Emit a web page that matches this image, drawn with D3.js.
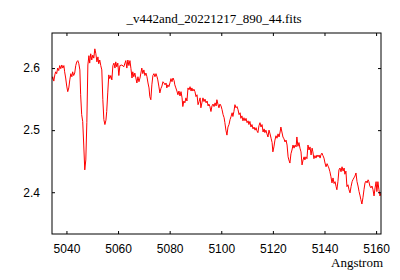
<!DOCTYPE html>
<html lang="en">
<head>
<meta charset="utf-8">
<title>_v442and_20221217_890_44.fits</title>
<script src="https://cdn.jsdelivr.net/npm/d3@7"></script>
<style>
 body { margin: 0; background: #fff; }
</style>
</head>
<body>
<script type="text/javascript">

 // spectrum values
 var title = "_v442and_20221217_890_44.fits";
 var xLabel = "Angstrom";
 var xTicks = [5040, 5060, 5080, 5100, 5120, 5140, 5160];
 var yTicks = [2.4, 2.5, 2.6];
 var xDomain = [5034.4, 5161.9];
 var yDomain = [2.3327, 2.6565];

 var wavelength = [
  5034.3,5034.7,5035.1,5035.5,5035.8,5036.2,5036.6,5037.0,5037.4,5037.8,5038.2,5038.6,5039.0,5039.3,5039.7,
  5040.1,5040.5,5040.9,5041.3,5041.7,5042.1,5042.4,5042.8,5043.2,5043.6,5044.0,5044.4,5044.8,5045.2,5045.5,
  5045.9,5046.3,5046.7,5047.1,5047.5,5047.9,5048.3,5048.7,5049.0,5049.4,5049.8,5050.2,5050.6,5051.0,5051.4,
  5051.8,5052.2,5052.5,5052.9,5053.3,5053.7,5054.1,5054.5,5054.9,5055.3,5055.6,5056.0,5056.4,5056.8,5057.2,
  5057.6,5058.0,5058.4,5058.8,5059.1,5059.5,5059.9,5060.3,5060.7,5061.5,5062.2,5063.0,5063.4,5063.8,5064.2,
  5064.6,5065.0,5065.4,5065.7,5066.1,5066.5,5066.9,5067.3,5067.7,5068.1,5068.5,5069.2,5069.6,5070.0,5070.4,
  5070.8,5071.2,5071.6,5072.0,5072.3,5072.7,5073.1,5073.5,5073.9,5074.3,5074.7,5075.1,5075.4,5075.8,5076.2,
  5076.6,5077.0,5077.4,5077.8,5078.2,5078.6,5078.9,5079.3,5079.7,5080.1,5080.5,5080.9,5081.3,5081.7,5082.0,
  5082.4,5082.8,5083.2,5083.6,5084.0,5084.4,5084.8,5085.1,5085.5,5085.9,5086.3,5086.7,5087.1,5087.5,5087.9,
  5088.3,5088.6,5089.0,5089.4,5089.8,5090.2,5090.6,5091.0,5091.4,5091.8,5092.1,5092.5,5092.9,5093.3,5093.7,
  5094.1,5094.5,5094.9,5095.2,5095.6,5096.0,5096.4,5096.8,5097.2,5097.6,5098.0,5098.3,5098.7,5099.1,5099.5,
  5099.9,5100.3,5100.7,5101.1,5101.4,5101.8,5102.2,5102.6,5103.0,5103.4,5103.8,5104.2,5104.5,5104.9,5105.3,
  5105.7,5106.1,5106.5,5106.9,5107.3,5107.6,5108.0,5108.4,5108.8,5109.2,5109.6,5110.0,5110.4,5110.7,5111.1,
  5111.5,5111.9,5112.3,5112.7,5113.1,5113.5,5113.8,5114.2,5114.6,5115.0,5115.4,5115.8,5116.2,5116.6,5116.9,
  5117.3,5117.7,5118.1,5118.5,5118.9,5119.3,5119.7,5120.0,5120.4,5120.8,5121.2,5121.6,5122.0,5122.4,5122.8,
  5123.1,5123.5,5123.9,5124.3,5124.7,5125.1,5125.5,5125.9,5126.2,5126.6,5127.0,5127.4,5127.8,5128.2,5128.6,
  5129.0,5129.3,5129.7,5130.1,5130.5,5130.9,5131.3,5131.7,5132.1,5132.4,5132.8,5133.2,5133.6,5134.0,5134.4,
  5134.8,5135.2,5135.5,5135.9,5136.3,5136.7,5137.1,5137.5,5137.9,5138.3,5138.6,5139.0,5139.4,5139.8,5140.2,
  5140.6,5141.0,5141.4,5141.7,5142.1,5142.5,5142.9,5143.3,5143.7,5144.1,5144.5,5144.8,5145.2,5145.6,5146.0,
  5146.4,5146.8,5147.2,5147.6,5147.9,5148.3,5148.7,5149.1,5149.5,5149.9,5150.3,5150.7,5151.0,5151.4,5151.8,
  5152.2,5152.6,5153.0,5153.4,5153.8,5154.1,5154.5,5154.9,5155.3,5155.7,5156.1,5156.5,5156.9,5157.2,5157.6,
  5158.0,5158.4,5158.8,5159.2,5159.6,5160.0,5160.3,5160.7,5161.1,5161.5,5161.9
 ];

 var flux = [
  2.581,2.586,2.579,2.589,2.594,2.591,2.600,2.596,2.604,2.599,2.605,2.600,2.604,2.594,2.584,
  2.571,2.562,2.568,2.581,2.591,2.586,2.594,2.588,2.592,2.604,2.610,2.612,2.607,2.597,2.557,
  2.525,2.514,2.476,2.436,2.452,2.512,2.605,2.620,2.608,2.623,2.613,2.621,2.616,2.631,2.623,
  2.610,2.618,2.607,2.613,2.604,2.597,2.549,2.517,2.509,2.516,2.530,2.560,2.589,2.583,2.588,
  2.581,2.604,2.608,2.600,2.610,2.602,2.608,2.588,2.604,2.605,2.602,2.612,2.600,2.613,2.604,
  2.612,2.599,2.584,2.594,2.586,2.592,2.584,2.576,2.586,2.578,2.584,2.600,2.591,2.597,2.588,
  2.592,2.586,2.576,2.568,2.554,2.549,2.573,2.588,2.591,2.586,2.591,2.586,2.581,2.571,2.560,
  2.567,2.571,2.578,2.576,2.573,2.576,2.568,2.573,2.570,2.576,2.583,2.578,2.584,2.580,2.573,
  2.568,2.563,2.557,2.563,2.555,2.562,2.552,2.538,2.547,2.544,2.552,2.547,2.568,2.565,2.570,
  2.563,2.568,2.563,2.566,2.562,2.554,2.557,2.541,2.546,2.552,2.536,2.544,2.552,2.546,2.550,
  2.544,2.547,2.539,2.542,2.538,2.530,2.539,2.542,2.538,2.544,2.539,2.549,2.542,2.536,2.542,
  2.539,2.533,2.525,2.520,2.512,2.500,2.492,2.505,2.509,2.517,2.522,2.528,2.522,2.530,2.541,
  2.536,2.538,2.533,2.525,2.528,2.519,2.523,2.515,2.520,2.515,2.519,2.512,2.515,2.509,2.514,
  2.505,2.509,2.502,2.505,2.500,2.504,2.499,2.496,2.507,2.512,2.505,2.509,2.497,2.502,2.496,
  2.500,2.494,2.489,2.500,2.494,2.487,2.480,2.465,2.473,2.484,2.491,2.487,2.494,2.489,2.497,
  2.505,2.497,2.489,2.486,2.481,2.484,2.476,2.457,2.452,2.447,2.462,2.468,2.476,2.471,2.476,
  2.473,2.489,2.474,2.480,2.471,2.465,2.444,2.452,2.457,2.452,2.457,2.454,2.476,2.468,2.473,
  2.460,2.471,2.465,2.454,2.459,2.455,2.460,2.457,2.460,2.455,2.460,2.463,2.459,2.455,2.447,
  2.441,2.446,2.442,2.439,2.433,2.425,2.415,2.423,2.414,2.417,2.409,2.404,2.417,2.436,2.439,
  2.433,2.441,2.434,2.439,2.429,2.434,2.409,2.412,2.404,2.399,2.409,2.417,2.420,2.423,2.426,
  2.431,2.417,2.410,2.401,2.394,2.388,2.381,2.391,2.404,2.415,2.418,2.415,2.420,2.417,2.410,
  2.407,2.410,2.404,2.394,2.407,2.417,2.401,2.417,2.404,2.394,2.399
 ];

 var margin = {top: 33, right: 19, bottom: 46, left: 52};
 var width = 400 - margin.left - margin.right;
 var height = 280 - margin.top - margin.bottom;

 var svg = d3.select("body")
	     .append("svg")
	     .attr("width", 400)
	     .attr("height", 280)
	     .style("display", "block");

 var g = svg.append("g")
	    .attr("transform", "translate(" + margin.left + "," + margin.top + ")");

 var xScale = d3.scaleLinear().domain(xDomain).range([0, width]);
 var yScale = d3.scaleLinear().domain(yDomain).range([height, 0]);

 var tickFont = "'Liberation Sans', Arial, sans-serif";
 var serifFont = "'Liberation Serif', 'Times New Roman', serif";

 //clip the spectrum to the frame
 g.append("clipPath").attr("id", "clip")
  .append("rect").attr("width", width).attr("height", height);

 var points = wavelength.map(function (w, i) { return [w, flux[i]]; });

 var line = d3.line()
	      .x(function (d) { return xScale(d[0]); })
	      .y(function (d) { return yScale(d[1]); });

 g.append("path")
  .datum(points)
  .attr("clip-path", "url(#clip)")
  .attr("fill", "none")
  .attr("stroke", "#ff0000")
  .attr("stroke-width", 1)
  .attr("d", line);

 //axes, ticks pointing inwards
 var axisB = g.append("g")
	      .attr("transform", "translate(0," + height + ")")
	      .call(d3.axisBottom(xScale).tickValues(xTicks).tickSizeInner(-3).tickSizeOuter(0)
		      .tickPadding(10).tickFormat(d3.format("d")));
 var axisT = g.append("g")
	      .call(d3.axisTop(xScale).tickValues(xTicks).tickSizeInner(-3).tickSizeOuter(0).tickFormat(""));
 var axisL = g.append("g")
	      .call(d3.axisLeft(yScale).tickValues(yTicks).tickSizeInner(-3).tickSizeOuter(0)
		      .tickPadding(12).tickFormat(d3.format(".1f")));
 var axisR = g.append("g")
	      .attr("transform", "translate(" + width + ",0)")
	      .call(d3.axisRight(yScale).tickValues(yTicks).tickSizeInner(-3).tickSizeOuter(0).tickFormat(""));

 [axisB, axisT, axisL, axisR].forEach(function (a) {
     a.select(".domain").remove();
     a.selectAll("line").attr("stroke", "#000");
     a.selectAll("text")
      .attr("fill", "#000")
      .style("font-family", tickFont)
      .style("font-size", "12px");
 });

 g.append("rect")
  .attr("width", width)
  .attr("height", height)
  .attr("fill", "none")
  .attr("stroke", "#000")
  .attr("stroke-width", 1);

 svg.append("text")
    .attr("x", 214)
    .attr("y", 23)
    .attr("text-anchor", "middle")
    .style("font-family", serifFont)
    .style("font-size", "13px")
    .text(title);

 svg.append("text")
    .attr("x", 383)
    .attr("y", 267)
    .attr("text-anchor", "end")
    .style("font-family", serifFont)
    .style("font-size", "13px")
    .text(xLabel);

</script>
</body>
</html>
